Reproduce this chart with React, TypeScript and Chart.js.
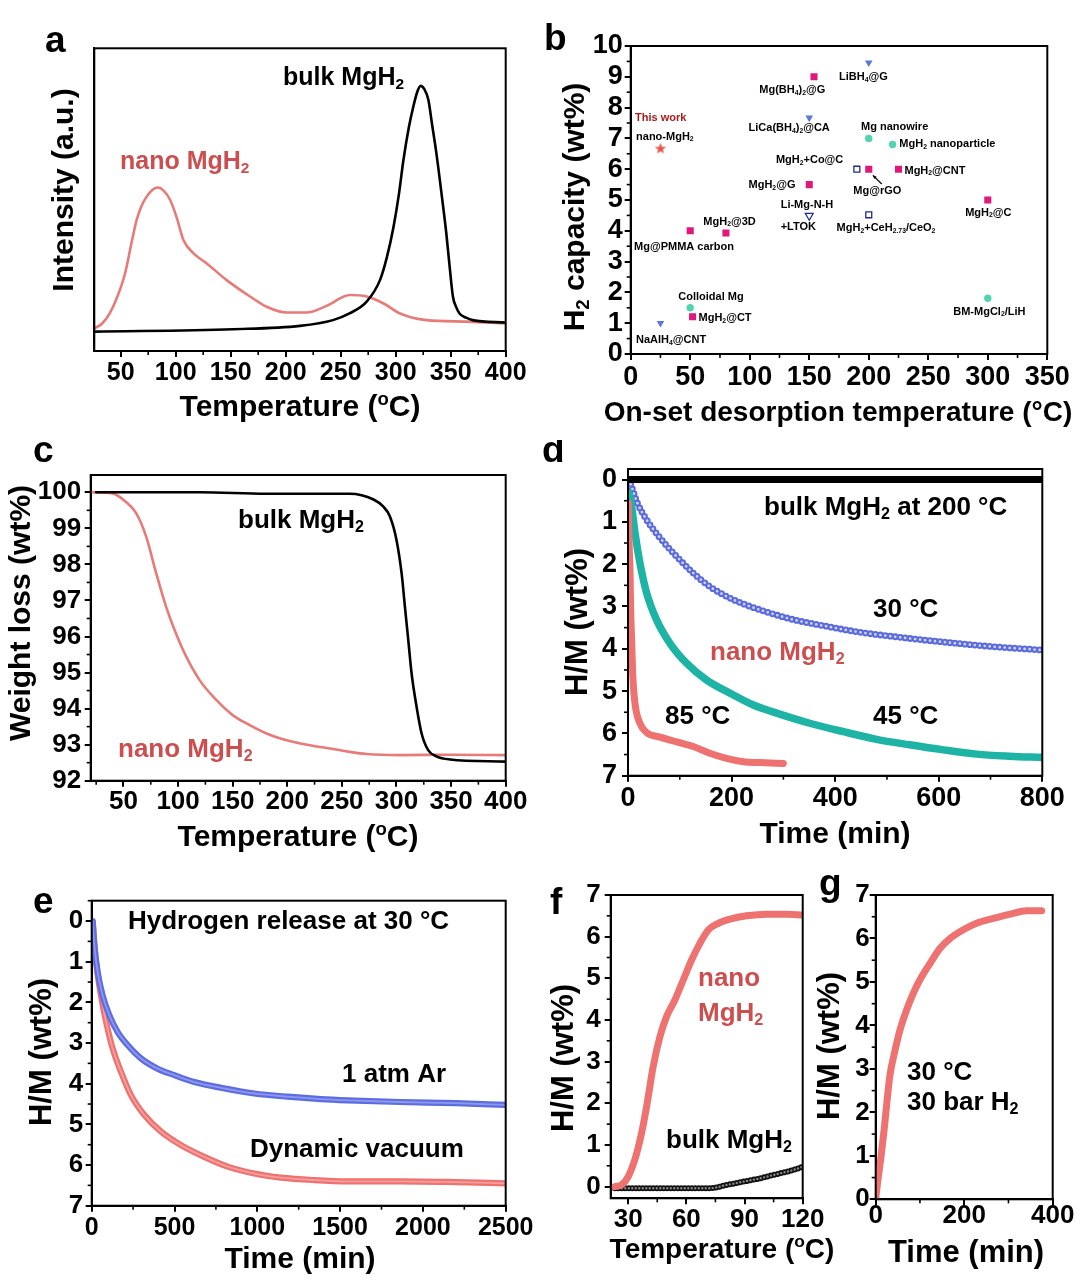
import React, { useEffect, useRef } from "react";
import { Chart, registerables } from "chart.js";
Chart.register(...registerables);

const FONT = '"Liberation Sans", Arial, Helvetica, sans-serif';
const RED_LINE = "#e77b78";
const RED_BAND = "#ee7270";
const RED_TEXT = "#cc4e4e";
const BLUE = "#5b6bdc";
const TEAL = "#1db3a5";

// ---------- Panel a : TPD ----------
const tpdNanoT = [26, 33, 40, 47, 54, 60, 64.5, 69, 73.6, 79, 84, 89, 95, 101, 107, 116, 128, 146, 167.6, 182.7, 201, 219, 237, 258.5, 273.6, 289, 304, 328, 364.5, 400];
const tpdNanoI = [0.075, 0.09, 0.124, 0.18, 0.257, 0.36, 0.433, 0.48, 0.51, 0.533, 0.54, 0.53, 0.499, 0.44, 0.367, 0.323, 0.29, 0.235, 0.18, 0.146, 0.127, 0.127, 0.149, 0.185, 0.18, 0.157, 0.124, 0.102, 0.097, 0.091];
const tpdBulkT = [26, 152, 213, 243, 258, 273.6, 285.8, 292, 298, 303, 307, 312, 316, 319.5, 322.7, 326, 329.7, 333, 337, 342, 346, 349, 352, 355, 358, 364, 370, 400];
const tpdBulkI = [0.064, 0.072, 0.083, 0.102, 0.124, 0.163, 0.235, 0.31, 0.41, 0.52, 0.63, 0.74, 0.807, 0.855, 0.876, 0.865, 0.83, 0.75, 0.653, 0.51, 0.389, 0.28, 0.18, 0.145, 0.124, 0.11, 0.102, 0.094];

// ---------- Panel b : literature comparison ----------
const sqTemp = [154, 200, 225, 150, 300, 50, 80, 52];
const sqCap = [9.0, 6.0, 6.0, 5.5, 5.0, 4.0, 3.93, 1.21];
const triTemp = [200, 150, 25];
const triCap = [9.46, 7.67, 1.0];
const circTemp = [200, 220, 50, 300];
const circCap = [7.0, 6.8, 1.5, 1.81];
const openSqTemp = [190, 200];
const openSqCap = [6.0, 4.52];
const openTriTemp = [150];
const openTriCap = [4.49];
const thisWorkTemp = [25];
const thisWorkCap = [6.68];
const bLabelText = [
  "This work", "nano-MgH_{2}", "Mg(BH_{4})_{2}@G", "LiBH_{4}@G", "LiCa(BH_{4})_{2}@CA", "Mg nanowire",
  "MgH_{2} nanoparticle", "MgH_{2}+Co@C", "MgH_{2}@CNT", "MgH_{2}@G", "Mg@rGO", "Li-Mg-N-H", "+LTOK",
  "MgH_{2}+CeH_{2.73}/CeO_{2}", "MgH_{2}@C", "MgH_{2}@3D", "Mg@PMMA carbon", "Colloidal Mg", "MgH_{2}@CT",
  "BM-MgCl_{2}/LiH", "NaAlH_{4}@CNT",
];
const bLabelX = [3.6, 4.5, 108, 175, 99, 193.5, 225.7, 122, 230, 99, 187, 126, 126, 173, 281, 61, 2.8, 40, 57, 271, 4.5];
const bLabelY = [7.67, 7.06, 8.57, 8.98, 7.33, 7.36, 6.82, 6.3, 5.95, 5.49, 5.29, 4.83, 4.13, 4.08, 4.59, 4.3, 3.48, 1.84, 1.16, 1.37, 0.45];

// ---------- Panel c : TGA ----------
const tgaNanoT = [20, 40, 52, 61.6, 70.8, 80, 89, 98, 107.5, 119.7, 135, 150, 165.6, 181, 196, 211, 226.7, 242, 257, 272.6, 303, 350, 400];
const tgaNanoW = [100, 99.97, 99.74, 99.42, 98.77, 97.75, 96.83, 96.09, 95.44, 94.79, 94.24, 93.82, 93.54, 93.31, 93.15, 93.04, 92.95, 92.88, 92.8, 92.74, 92.71, 92.72, 92.71];
const tgaBulkT = [25, 120, 181, 257, 279, 288, 294, 300, 304.7, 307.7, 310.8, 313.8, 318.4, 323, 329, 337, 349, 400];
const tgaBulkW = [100, 100.0, 99.96, 99.96, 99.8, 99.6, 99.33, 98.68, 97.75, 96.83, 95.9, 94.98, 94.05, 93.31, 92.85, 92.67, 92.59, 92.53];

// ---------- Panel d : isothermal desorption ----------
const dBulkT = [0, 800];
const dBulkY = [0, 0];
const d30T = [2, 9, 18, 36, 62, 94, 126, 158, 190, 223, 255, 319, 384, 448, 512, 577, 641, 705, 800];
const d30Y = [0, 0.24, 0.55, 0.95, 1.38, 1.82, 2.21, 2.53, 2.76, 2.94, 3.08, 3.31, 3.47, 3.61, 3.71, 3.8, 3.88, 3.95, 4.03];
const d45T = [2, 7, 13.5, 23, 36, 55, 81, 113, 152, 197, 242, 287, 351, 416, 480, 544, 609, 673, 737, 800];
const d45Y = [0.32, 0.63, 1.26, 1.97, 2.68, 3.31, 3.87, 4.34, 4.74, 5.05, 5.33, 5.52, 5.76, 5.96, 6.14, 6.27, 6.39, 6.49, 6.54, 6.57];
const d85T = [0.6, 2, 4, 5, 7, 9, 13.5, 23, 36, 62, 94, 126, 158, 190, 223, 255, 300];
const d85Y = [0.55, 1.42, 2.21, 3.0, 3.79, 4.58, 5.29, 5.76, 5.98, 6.09, 6.2, 6.31, 6.47, 6.59, 6.67, 6.69, 6.71];

// ---------- Panel e : 30 °C release ----------
const eArT = [6, 16, 36, 66, 107, 157, 217, 298, 398, 499, 620, 781, 982, 1183, 1384, 1545, 1861, 2200, 2500];
const eArY = [0, 0.6, 1.25, 1.83, 2.32, 2.73, 3.05, 3.38, 3.63, 3.79, 3.96, 4.1, 4.24, 4.32, 4.38, 4.41, 4.45, 4.48, 4.52];
const eVacT = [6, 26, 56, 87, 127, 177, 237, 318, 419, 539, 680, 821, 982, 1143, 1344, 1545, 1861, 2200, 2500];
const eVacY = [0.02, 1.0, 1.83, 2.48, 3.14, 3.71, 4.28, 4.77, 5.18, 5.51, 5.8, 6.04, 6.21, 6.31, 6.37, 6.4, 6.4, 6.42, 6.45];

// ---------- Panel f : non-isothermal absorption ----------
const fNanoT = [23.1, 26.6, 30, 33.4, 36.9, 39.8, 42.9, 46.4, 49.8, 54.1, 58.4, 62.7, 67, 71.3, 76.5, 82.5, 91, 101.4, 111.8, 120];
const fNanoY = [0, 0.04, 0.24, 0.64, 1.28, 2.0, 2.88, 3.6, 4.08, 4.48, 4.96, 5.44, 5.84, 6.16, 6.32, 6.42, 6.5, 6.54, 6.54, 6.52];
const fBulkT = [23.1, 72, 80.8, 89.4, 98, 106.6, 115.2, 120];
const fBulkY = [-0.04, -0.04, 0.04, 0.12, 0.2, 0.3, 0.4, 0.48];

// ---------- Panel g : isothermal absorption ----------
const gT = [0, 6, 12, 19, 25, 32, 44, 55, 70, 85, 100, 123, 145, 168, 198, 228, 266, 304, 341, 375];
const gY = [0.02, 0.52, 0.98, 1.6, 2.2, 2.84, 3.44, 3.9, 4.36, 4.74, 5.05, 5.43, 5.77, 6.0, 6.2, 6.35, 6.46, 6.56, 6.64, 6.64];

// ---------- tick labels ----------
const ticksTemp400 = [50, 100, 150, 200, 250, 300, 350, 400];
const ticksB_X = [0, 50, 100, 150, 200, 250, 300, 350];
const ticksB_Y = [0, 1, 2, 3, 4, 5, 6, 7, 8, 9, 10];
const ticksWeight = [92, 93, 94, 95, 96, 97, 98, 99, 100];
const ticksHM = [0, 1, 2, 3, 4, 5, 6, 7];
const ticksTime800 = [0, 200, 400, 600, 800];
const ticksTime2500 = [0, 500, 1000, 1500, 2000, 2500];
const ticksTempF = [30, 60, 90, 120];
const ticksTime400 = [0, 200, 400];

// ---------- helpers ----------
type Seg = { t: string; k: "n" | "sub" | "sup" };
function parseRich(s: string): Seg[] {
  const out: Seg[] = [];
  for (const p of s.split(/(_\{[^}]*\}|\^\{[^}]*\})/)) {
    if (!p) continue;
    if (p.startsWith("_{")) out.push({ t: p.slice(2, -1), k: "sub" });
    else if (p.startsWith("^{")) out.push({ t: p.slice(2, -1), k: "sup" });
    else out.push({ t: p, k: "n" });
  }
  return out;
}
interface Txt { text: string; x: number; y: number; size: number; color?: string; align?: "left" | "center" | "right"; rot?: boolean; }
function drawRich(ctx: CanvasRenderingContext2D, t: Txt, ox: number, oy: number) {
  const segs = parseRich(t.text);
  const font = (k: string) => `bold ${k === "n" ? t.size : t.size * 0.62}px ${FONT}`;
  let w = 0;
  const widths = segs.map((s) => { ctx.font = font(s.k); const m = ctx.measureText(s.t).width; w += m; return m; });
  ctx.save();
  ctx.translate(t.x - ox, t.y - oy);
  if (t.rot) ctx.rotate(-Math.PI / 2);
  ctx.fillStyle = t.color || "#000";
  ctx.textBaseline = "middle";
  ctx.textAlign = "left";
  let cx = t.align === "center" ? -w / 2 : t.align === "right" ? -w : 0;
  segs.forEach((s, i) => {
    ctx.font = font(s.k);
    const dy = s.k === "sub" ? t.size * 0.25 : s.k === "sup" ? -t.size * 0.27 : 0;
    ctx.fillText(s.t, cx, dy);
    cx += widths[i];
  });
  ctx.restore();
}

const xy = (xs: number[], ys: number[]) => xs.map((x, i) => ({ x, y: ys[i] }));
function band(xs: number[], ys: number[], color: string, width: number): any {
  return { data: xy(xs, ys), borderColor: color, borderWidth: width, pointRadius: 0, fill: false, cubicInterpolationMode: "monotone", borderCapStyle: "round", borderJoinStyle: "round" };
}
function chain(xs: number[], ys: number[], color: string, inner: string, size: number, gap: number): any[] {
  return [
    { ...band(xs, ys, inner, size * 0.4), borderDash: [0, gap] },
    { ...band(xs, ys, color, size), borderDash: [0, gap] },
  ];
}
function makeStar(): HTMLCanvasElement {
  const c = document.createElement("canvas");
  c.width = 12; c.height = 12;
  const g = c.getContext("2d")!;
  g.fillStyle = "#e4574e";
  g.beginPath();
  for (let i = 0; i < 10; i++) {
    const r = i % 2 === 0 ? 6 : 2.5;
    const a = -Math.PI / 2 + (i * Math.PI) / 5;
    const px = 6 + r * Math.cos(a), py = 6.5 + r * Math.sin(a);
    if (i === 0) g.moveTo(px, py); else g.lineTo(px, py);
  }
  g.closePath();
  g.fill();
  return c;
}

interface AxisSpec { min: number; max: number; ticks: number[]; minor?: number; reverse?: boolean; hide?: boolean; font: number; pad: number; }
interface PanelSpec {
  left: number; top: number; w: number; h: number;
  box: [number, number, number, number];
  type: "line" | "scatter";
  x: AxisSpec; y: AxisSpec;
  datasets: () => any[];
  texts: Txt[];
  letter: { t: string; x: number; y: number };
  dataTexts?: Txt[];
  extra?: (chart: any) => void;
}

function axisOpts(a: AxisSpec, horizontal: boolean, fit: number): any {
  return {
    type: "linear",
    min: a.min, max: a.max, reverse: !!a.reverse,
    afterBuildTicks: (s: any) => { s.ticks = a.ticks.map((v) => ({ value: v })); },
    afterFit: (s: any) => { if (horizontal) s.height = fit; else s.width = fit; },
    grid: { display: !a.hide, drawOnChartArea: false, drawTicks: true, tickLength: 6, color: "#000", lineWidth: 2 },
    border: { display: true, color: "#000", width: 2 },
    ticks: { display: !a.hide, color: "#000", font: { family: FONT, size: a.font, weight: "bold" }, padding: a.pad, maxRotation: 0, autoSkip: false, callback: (v: any) => String(v) },
    title: { display: false },
  };
}

function buildConfig(s: PanelSpec): any {
  const [L, T, R, B] = s.box;
  const decor = {
    id: "decor",
    afterDatasetsDraw(chart: any) {
      const ctx: CanvasRenderingContext2D = chart.ctx;
      const ca = chart.chartArea;
      const xs = chart.scales.x, ys = chart.scales.y;
      ctx.save();
      ctx.strokeStyle = "#000";
      ctx.lineWidth = 2;
      ctx.strokeRect(ca.left, ca.top, ca.right - ca.left, ca.bottom - ca.top);
      ctx.lineWidth = 1.6;
      const drawMinor = (a: AxisSpec, horiz: boolean) => {
        if (!a.minor) return;
        const start = Math.ceil(a.min / a.minor - 1e-9);
        const end = Math.floor(a.max / a.minor + 1e-9);
        for (let k = start; k <= end; k++) {
          const v = k * a.minor;
          if (a.ticks.some((t) => Math.abs(t - v) < 1e-6)) continue;
          ctx.beginPath();
          if (horiz) { const p = xs.getPixelForValue(v); ctx.moveTo(p, ca.bottom); ctx.lineTo(p, ca.bottom + 4); }
          else { const p = ys.getPixelForValue(v); ctx.moveTo(ca.left - 4, p); ctx.lineTo(ca.left, p); }
          ctx.stroke();
        }
      };
      drawMinor(s.x, true);
      drawMinor(s.y, false);
      ctx.restore();
      if (s.extra) s.extra(chart);
    },
    afterDraw(chart: any) {
      const ctx: CanvasRenderingContext2D = chart.ctx;
      s.texts.forEach((t) => drawRich(ctx, t, s.left, s.top));
      if (s.dataTexts) {
        const xs = chart.scales.x, ys = chart.scales.y;
        s.dataTexts.forEach((t) => drawRich(ctx, { ...t, x: xs.getPixelForValue(t.x), y: ys.getPixelForValue(t.y) }, 0, 0));
      }
      ctx.save();
      ctx.fillStyle = "#000";
      ctx.font = `bold 37px ${FONT}`;
      ctx.textBaseline = "alphabetic";
      ctx.fillText(s.letter.t, s.letter.x - s.left, s.letter.y - s.top);
      ctx.restore();
    },
  };
  return {
    type: s.type,
    data: { datasets: s.datasets() },
    options: {
      animation: false, responsive: false, maintainAspectRatio: false, events: [],
      layout: { padding: { top: T - s.top, right: s.left + s.w - R, left: 0, bottom: 0 } },
      plugins: { legend: { display: false }, tooltip: { enabled: false }, title: { display: false } },
      scales: { x: axisOpts(s.x, true, s.top + s.h - B), y: axisOpts(s.y, false, L - s.left) },
    },
    plugins: [decor],
  };
}

// ---------- panel specs ----------
const panelA: PanelSpec = {
  left: 0, top: 0, w: 540, h: 440, box: [94.3, 48.3, 505.7, 351], type: "line",
  x: { min: 26, max: 400, ticks: ticksTemp400, minor: 25, font: 25, pad: 1 },
  y: { min: 0, max: 1, ticks: [], hide: true, font: 25, pad: 2 },
  datasets: () => [
    band(tpdBulkT, tpdBulkI, "#000", 2.6),
    band(tpdNanoT, tpdNanoI, RED_LINE, 2.6),
  ],
  texts: [
    { text: "Temperature (^{o}C)", x: 300, y: 408, size: 30, align: "center" },
    { text: "Intensity (a.u.)", x: 65, y: 190, size: 30, align: "center", rot: true },
    { text: "bulk MgH_{2}", x: 283, y: 78, size: 25 },
    { text: "nano MgH_{2}", x: 120, y: 162, size: 25, color: RED_TEXT },
  ],
  letter: { t: "a", x: 45, y: 52 },
};

const panelB: PanelSpec = {
  left: 540, top: 0, w: 540, h: 440, box: [630.7, 46, 1047.3, 354], type: "scatter",
  x: { min: 0, max: 350, ticks: ticksB_X, minor: 25, font: 27, pad: 1 },
  y: { min: 0, max: 10, ticks: ticksB_Y, minor: 0.5, font: 27, pad: 2 },
  datasets: () => [
    { data: xy(thisWorkTemp, thisWorkCap), pointStyle: makeStar(), pointRadius: 6 },
    { data: xy(sqTemp, sqCap), pointStyle: "rect", pointRadius: 5, pointBackgroundColor: "#e0187c", pointBorderColor: "#e0187c", pointBorderWidth: 0 },
    { data: xy(triTemp, triCap), pointStyle: "triangle", pointRotation: 180, pointRadius: 4.4, pointBackgroundColor: "#5a77dc", pointBorderColor: "#5a77dc", pointBorderWidth: 0 },
    { data: xy(circTemp, circCap), pointStyle: "circle", pointRadius: 3.7, pointBackgroundColor: "#52d4b0", pointBorderColor: "#52d4b0", pointBorderWidth: 0 },
    { data: xy(openSqTemp, openSqCap), pointStyle: "rect", pointRadius: 4.2, pointBackgroundColor: "#fff", pointBorderColor: "#1e2a8c", pointBorderWidth: 1.3 },
    { data: xy(openTriTemp, openTriCap), pointStyle: "triangle", pointRotation: 180, pointRadius: 4.6, pointBackgroundColor: "#fff", pointBorderColor: "#1e2a8c", pointBorderWidth: 1.2 },
  ],
  texts: [
    { text: "On-set desorption temperature (°C)", x: 838, y: 413, size: 28, align: "center" },
    { text: "H_{2} capacity (wt%)", x: 576, y: 207, size: 30, align: "center", rot: true },
  ],
  dataTexts: bLabelText.map((t, i) => ({ text: t, x: bLabelX[i], y: bLabelY[i], size: 11, color: i === 0 ? "#a81c1c" : "#000" })),
  extra: (chart: any) => {
    const ctx: CanvasRenderingContext2D = chart.ctx;
    const xs = chart.scales.x, ys = chart.scales.y;
    const x0 = xs.getPixelForValue(210.9), y0 = ys.getPixelForValue(5.52);
    const x1 = xs.getPixelForValue(203.5), y1 = ys.getPixelForValue(5.8);
    ctx.save();
    ctx.strokeStyle = "#000"; ctx.fillStyle = "#000"; ctx.lineWidth = 1.2;
    ctx.beginPath(); ctx.moveTo(x0, y0); ctx.lineTo(x1, y1); ctx.stroke();
    const a = Math.atan2(y1 - y0, x1 - x0);
    ctx.beginPath();
    ctx.moveTo(x1, y1);
    ctx.lineTo(x1 - 4 * Math.cos(a - 0.45), y1 - 4 * Math.sin(a - 0.45));
    ctx.lineTo(x1 - 4 * Math.cos(a + 0.45), y1 - 4 * Math.sin(a + 0.45));
    ctx.closePath(); ctx.fill();
    ctx.restore();
  },
  letter: { t: "b", x: 544, y: 50 },
};

const panelC: PanelSpec = {
  left: 0, top: 440, w: 540, h: 430, box: [90.7, 475, 505.7, 780.7], type: "line",
  x: { min: 20, max: 400, ticks: ticksTemp400, minor: 25, font: 26, pad: 0 },
  y: { min: 92, max: 100.48, ticks: ticksWeight, minor: 0.5, font: 26, pad: 3.5 },
  datasets: () => [
    band(tgaBulkT, tgaBulkW, "#000", 2.6),
    band(tgaNanoT, tgaNanoW, RED_LINE, 2.6),
  ],
  texts: [
    { text: "Temperature (^{o}C)", x: 298, y: 838, size: 30, align: "center" },
    { text: "Weight loss (wt%)", x: 22, y: 613, size: 30, align: "center", rot: true },
    { text: "bulk MgH_{2}", x: 238, y: 521, size: 26 },
    { text: "nano MgH_{2}", x: 118, y: 750, size: 26, color: RED_TEXT },
  ],
  letter: { t: "c", x: 33, y: 462 },
};

const panelD: PanelSpec = {
  left: 540, top: 440, w: 540, h: 430, box: [628, 469, 1042.3, 775.7], type: "line",
  x: { min: 0, max: 800, ticks: ticksTime800, minor: 100, font: 27, pad: 1 },
  y: { min: -0.25, max: 7, ticks: ticksHM, minor: 0.5, reverse: true, font: 27, pad: 5 },
  datasets: () => [
    band(dBulkT, dBulkY, "#000", 7),
    band(d85T, d85Y, RED_BAND, 7),
    band(d45T, d45Y, TEAL, 7.5),
    ...chain(d30T, d30Y, BLUE, "#d2d6fa", 6.8, 5),
  ],
  texts: [
    { text: "Time (min)", x: 835, y: 835, size: 30, align: "center" },
    { text: "H/M (wt%)", x: 578, y: 622, size: 31, align: "center", rot: true },
    { text: "bulk MgH_{2} at 200 °C", x: 764, y: 508, size: 26 },
    { text: "30 °C", x: 873, y: 610, size: 26 },
    { text: "nano MgH_{2}", x: 710, y: 653, size: 26, color: RED_TEXT },
    { text: "85 °C", x: 665, y: 717, size: 26 },
    { text: "45 °C", x: 873, y: 717, size: 26 },
  ],
  letter: { t: "d", x: 542, y: 462 },
};

const panelE: PanelSpec = {
  left: 0, top: 870, w: 540, h: 414, box: [91.7, 900.7, 505.7, 1205.7], type: "line",
  x: { min: 0, max: 2500, ticks: ticksTime2500, minor: 250, font: 25, pad: 1 },
  y: { min: -0.5, max: 7, ticks: ticksHM, minor: 0.5, reverse: true, font: 26, pad: 2.5 },
  datasets: () => [
    band(eArT, eArY, "#8d99ee", 1.8),
    band(eArT, eArY, "#5d6de0", 6.2),
    band(eVacT, eVacY, "#f5a09e", 1.8),
    band(eVacT, eVacY, RED_BAND, 6.2),
  ],
  texts: [
    { text: "Time (min)", x: 300, y: 1260, size: 30, align: "center" },
    { text: "H/M (wt%)", x: 42, y: 1052, size: 31, align: "center", rot: true },
    { text: "Hydrogen release at 30 °C", x: 128, y: 922, size: 26 },
    { text: "1 atm Ar", x: 342, y: 1075, size: 26 },
    { text: "Dynamic vacuum", x: 250, y: 1150, size: 26 },
  ],
  letter: { t: "e", x: 33, y: 913 },
};

const panelF: PanelSpec = {
  left: 540, top: 870, w: 330, h: 414, box: [610.7, 895, 802.7, 1198.3], type: "line",
  x: { min: 21, max: 120, ticks: ticksTempF, minor: 15, font: 26, pad: 0 },
  y: { min: -0.28, max: 7, ticks: ticksHM, minor: 0.5, font: 26, pad: 4 },
  datasets: () => [
    band(fNanoT, fNanoY, RED_BAND, 7),
    ...chain(fBulkT, fBulkY, "#111", "#888", 6, 3.5),
  ],
  texts: [
    { text: "Temperature (^{o}C)", x: 722, y: 1250, size: 28, align: "center" },
    { text: "H/M (wt%)", x: 564, y: 1058, size: 31, align: "center", rot: true },
    { text: "nano", x: 698, y: 979, size: 26, color: RED_TEXT },
    { text: "MgH_{2}", x: 698, y: 1014, size: 26, color: RED_TEXT },
    { text: "bulk MgH_{2}", x: 666, y: 1141, size: 26 },
  ],
  letter: { t: "f", x: 550, y: 914 },
};

const panelG: PanelSpec = {
  left: 800, top: 870, w: 280, h: 414, box: [875.7, 895, 1052.7, 1199.3], type: "line",
  x: { min: 0, max: 400, ticks: ticksTime400, minor: 100, font: 26, pad: -5 },
  y: { min: 0, max: 7, ticks: ticksHM, minor: 0.5, font: 26, pad: 0 },
  datasets: () => [band(gT, gY, RED_BAND, 7)],
  texts: [
    { text: "Time (min)", x: 966, y: 1253, size: 31, align: "center" },
    { text: "H/M (wt%)", x: 830, y: 1046, size: 31, align: "center", rot: true },
    { text: "30 °C", x: 907, y: 1073, size: 26 },
    { text: "30 bar H_{2}", x: 907, y: 1103, size: 26 },
  ],
  letter: { t: "g", x: 819, y: 895 },
};

const PANELS = [panelA, panelB, panelC, panelD, panelE, panelF, panelG];

function PanelCanvas({ spec }: { spec: PanelSpec }) {
  const ref = useRef<HTMLCanvasElement>(null);
  useEffect(() => {
    if (!ref.current) return;
    const chart = new Chart(ref.current, buildConfig(spec));
    return () => chart.destroy();
  }, [spec]);
  return (
    <canvas
      ref={ref}
      width={spec.w}
      height={spec.h}
      style={{ position: "absolute", left: spec.left, top: spec.top, width: spec.w, height: spec.h }}
    />
  );
}

export default function App() {
  return (
    <div style={{ position: "absolute", left: 0, top: 0, width: 1080, height: 1284, background: "#fff", overflow: "hidden" }}>
      {PANELS.map((p, i) => (
        <PanelCanvas key={i} spec={p} />
      ))}
    </div>
  );
}
